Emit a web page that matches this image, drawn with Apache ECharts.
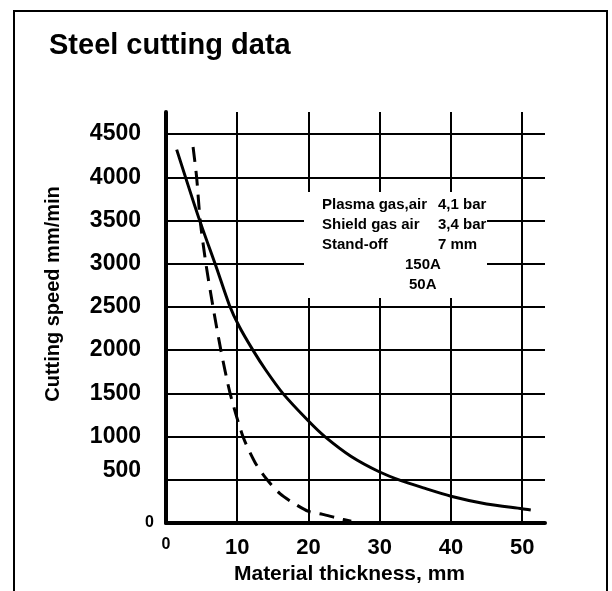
<!DOCTYPE html>
<html>
<head>
<meta charset="utf-8">
<script src="https://cdn.jsdelivr.net/npm/echarts@6/dist/echarts.min.js"></script>
<style>
  html, body { margin: 0; padding: 0; background: #fff; }
  #box { width: 612px; height: 591px; }
</style>
</head>
<body>
<div id="box"></div>
<script>
// thickness (mm) vs cutting speed (mm/min)
var amp150 = [
  [1.5, 4320], [4.6, 3530], [7.1, 2950], [8.9, 2520], [10.3, 2270],
  [12.2, 2000], [14, 1770], [16.4, 1500], [20, 1180], [22.3, 1000], [26, 770],
  [30, 590], [33, 490], [36, 410], [40, 310], [45, 220], [50, 165], [51.2, 150]
];
var amp50 = [
  [3.8, 4350], [4.3, 4000], [4.8, 3500], [5.6, 3000], [6.6, 2500], [7.7, 2000],
  [9.0, 1500], [10.8, 1000], [12.5, 700], [14.2, 500], [16, 340], [18, 225],
  [20, 135], [22, 100], [24, 58], [26, 20]
];
var xTicks = [0, 10, 20, 30, 40, 50];
var yTicks = [0, 500, 1000, 1500, 2000, 2500, 3000, 3500, 4000, 4500];
var noteLeft = ['Plasma gas,air', 'Shield gas air', 'Stand-off'];
var noteRight = ['4,1 bar', '3,4 bar', '7 mm'];
var noteCurrents = ['150A', '50A'];

var font = '"Liberation Sans", Arial, sans-serif';
var mychart = echarts.init(document.getElementById('box'));

var graphics = [
  { type: 'rect', shape: { x: 14, y: 11, width: 593, height: 620 },
    style: { fill: 'none', stroke: '#000', lineWidth: 2 }, z: 100 },
  // white box behind the note, it hides the grid there
  { type: 'rect', shape: { x: 304, y: 192, width: 183, height: 106 },
    style: { fill: '#fff' }, z: 100 }
];
noteLeft.forEach(function (t, i) {
  graphics.push({ type: 'text', left: 322, top: 197 + i * 20, z: 101,
    style: { text: t, font: 'bold 15px ' + font, fill: '#000' } });
  graphics.push({ type: 'text', left: 438, top: 197 + i * 20, z: 101,
    style: { text: noteRight[i], font: 'bold 15px ' + font, fill: '#000' } });
});
noteCurrents.forEach(function (t, i) {
  graphics.push({ type: 'text', left: 405 + i * 4, top: 257 + i * 20, z: 101,
    style: { text: t, font: 'bold 15px ' + font, fill: '#000' } });
});

var option = {
  animation: false,
  backgroundColor: '#fff',
  textStyle: { fontFamily: font },
  title: {
    text: 'Steel cutting data',
    left: 44, top: 26,
    textStyle: { fontSize: 29, fontWeight: 'bold', color: '#000', fontFamily: font }
  },
  grid: { left: 166, top: 112, width: 379, height: 411 },
  xAxis: {
    type: 'value', min: 0, max: 53.2, interval: 10,
    name: 'Material thickness, mm', nameLocation: 'middle', nameGap: 40,
    nameTextStyle: { fontSize: 21, fontWeight: 'bold', color: '#000', padding: [0, 12, 0, 0] },
    axisLine: { show: true, onZero: false, lineStyle: { color: '#000', width: 4 } },
    axisTick: { show: false },
    splitLine: { show: true, showMinLine: false, showMaxLine: false, lineStyle: { color: '#000', width: 2 } },
    axisLabel: {
      margin: 14, showMaxLabel: false, color: '#000',
      formatter: function (v) {
        if (xTicks.indexOf(v) < 0) return '';
        return v === 0 ? '{z|0}' : '{n|' + v + '}';
      },
      rich: {
        z: { fontSize: 16, fontWeight: 'bold', color: '#000' },
        n: { fontSize: 22, fontWeight: 'bold', color: '#000' }
      }
    }
  },
  yAxis: {
    type: 'value', min: 0, max: 4755, interval: 500,
    name: 'Cutting speed mm/min', nameLocation: 'middle', nameGap: 103,
    nameTextStyle: { fontSize: 20, fontWeight: 'bold', color: '#000', padding: [0, 0, 0, 47] },
    axisLine: { show: true, lineStyle: { color: '#000', width: 4 } },
    axisTick: { show: false },
    splitLine: { show: true, showMinLine: false, showMaxLine: false, lineStyle: { color: '#000', width: 2 } },
    axisLabel: {
      margin: 12, showMaxLabel: false, color: '#000',
      formatter: function (v) {
        if (yTicks.indexOf(v) < 0) return '';
        if (v === 0) return '{z|0}';
        if (v === 500) return '{u|500}';
        return '{n|' + v + '}';
      },
      rich: {
        z: { fontSize: 16, fontWeight: 'bold', color: '#000' },
        n: { fontSize: 23, fontWeight: 'bold', color: '#000', padding: [0, 13, 0, 0] },
        u: { fontSize: 23, fontWeight: 'bold', color: '#000', padding: [0, 13, 18, 0] }
      }
    }
  },
  series: [
    {
      name: '150A', type: 'line', data: amp150, smooth: 0.25, symbol: 'none',
      lineStyle: { color: '#000', width: 3 }
    },
    {
      name: '50A', type: 'line', data: amp50, smooth: 0.25, symbol: 'none',
      lineStyle: { color: '#000', width: 3, type: [15, 9] }
    }
  ],
  graphic: graphics
};
mychart.setOption(option);
</script>
</body>
</html>
